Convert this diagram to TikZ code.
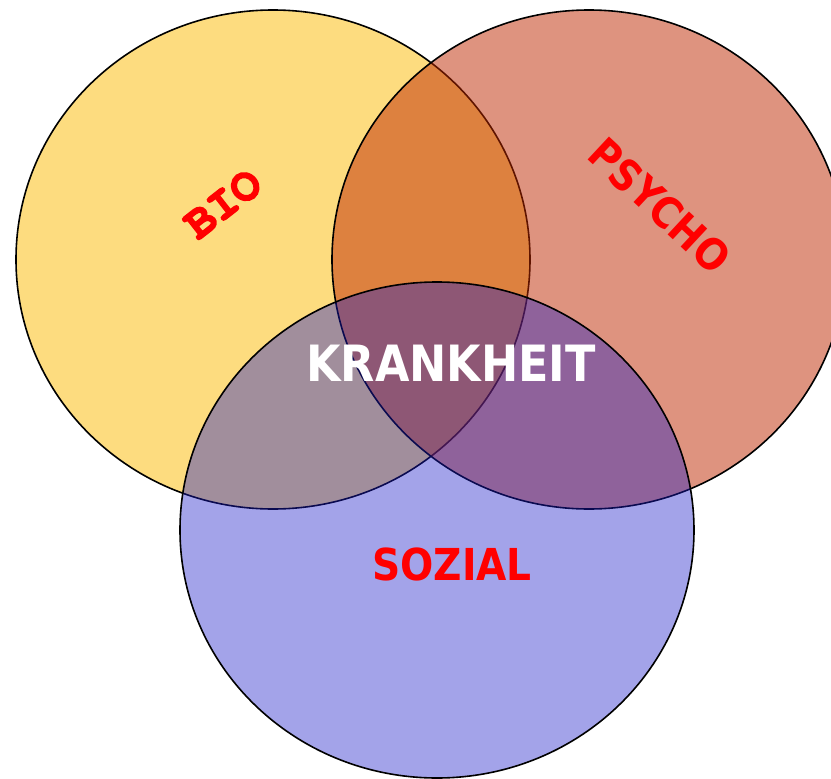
\documentclass[tikz,border=0pt]{standalone}
\usepackage{fontspec}
\newfontfamily\labelfont[FakeStretch=0.89]{DejaVu Sans}
\newfontfamily\monofont[BoldFeatures={FakeBold=3}]{TeX Gyre Cursor}
\definecolor{bioFill}{RGB}{253,220,127}
\definecolor{psychoFill}{RGB}{190,40,0}
\definecolor{sozialFill}{RGB}{25,25,200}
\definecolor{labelRed}{RGB}{255,0,0}
\tikzset{
  area/.style={draw=black, line width=1.6pt},
  areaname/.style={text=labelRed, font=\labelfont\bfseries, inner sep=0pt},
}
\begin{document}
\begin{tikzpicture}[x=1pt, y=-1pt]
  \useasboundingbox (0,0) rectangle (831,779);
  % the three overlapping fields
  \draw[area, fill=bioFill] (273,259.5) ellipse [x radius=257pt, y radius=249.5pt];
  \draw[area, fill=psychoFill, fill opacity=0.5] (589,259.5) ellipse [x radius=257pt, y radius=249.5pt];
  \draw[area, fill=sozialFill, fill opacity=0.4] (437,530) ellipse [x radius=257pt, y radius=248pt];
  % labels
  \node[areaname, font=\monofont\bfseries\fontsize{47}{47}\selectfont, rotate=38] (bio) at (223,204) {BIO};
  \node[areaname, font=\labelfont\bfseries\fontsize{43}{43}\selectfont, rotate=-43] (psycho) at (660,206) {PSYCHO};
  \node[areaname, text=white, font=\labelfont\bfseries\fontsize{50}{50}\selectfont] (krankheit) at (451,363) {KRANKHEIT};
  \node[areaname, font=\labelfont\bfseries\fontsize{44}{44}\selectfont] (sozial) at (452,564) {SOZIAL};
\end{tikzpicture}
\end{document}
